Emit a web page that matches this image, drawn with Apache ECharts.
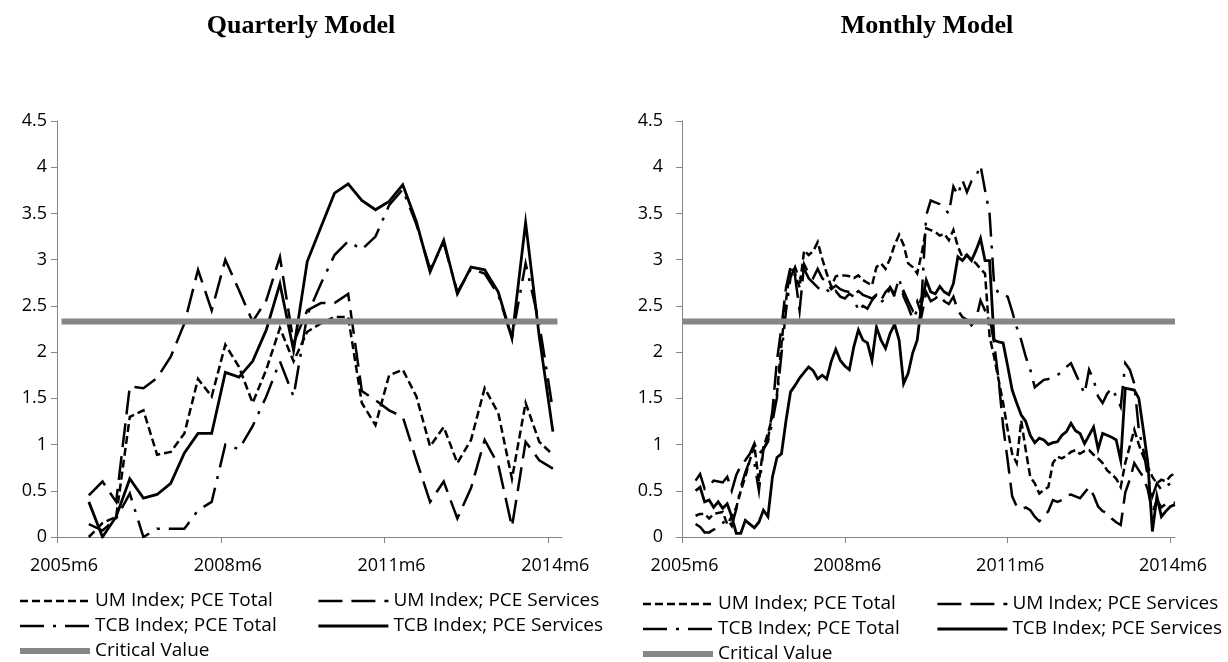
<!DOCTYPE html>
<html>
    <head>
        <meta charset="UTF-8">
        <script src="https://cdn.jsdelivr.net/npm/echarts@6/dist/echarts.min.js"></script>
        <style>
            html, body { margin: 0; padding: 0; background: #fff; }
            #main { width: 1228px; height: 662px; }
        </style>
    </head>

    <body>
        <div id="main"></div>
    </body>

    <script>
        // critical value and the month labels shown on the x axis
        var critValue = 2.33;
        var tickLabels = ['2005m6', '2008m6', '2011m6', '2014m6'];

        // quarterly model, one point per quarter, first point at 2006m1
        var qStart = 7;
        var umTotalQ = [0.00, 0.15, 0.22, 1.30, 1.37, 0.89, 0.92, 1.12, 1.71, 1.52, 2.08, 1.84, 1.45, 1.81, 2.26, 1.90, 2.22, 2.31, 2.38, 2.38,
                        1.45, 1.21, 1.75, 1.81, 1.52, 0.98, 1.19, 0.80, 1.05, 1.61, 1.34, 0.63, 1.45, 1.03, 0.89];
        var umServQ  = [0.45, 0.60, 0.38, 1.63, 1.61, 1.72, 1.95, 2.31, 2.89, 2.45, 3.00, 2.67, 2.33, 2.56, 3.03, 2.10, 2.45, 2.53, 2.53, 2.63,
                        1.58, 1.48, 1.37, 1.30, 0.83, 0.38, 0.60, 0.20, 0.53, 1.05, 0.78, 0.11, 1.03, 0.83, 0.74];
        var tcbTotalQ = [0.14, 0.07, 0.20, 0.47, 0.00, 0.09, 0.09, 0.09, 0.29, 0.38, 1.00, 0.95, 1.20, 1.52, 1.90, 1.52, 2.40, 2.74, 3.05, 3.20,
                         3.11, 3.25, 3.59, 3.76, 3.38, 2.90, 3.18, 2.65, 2.90, 2.85, 2.62, 2.15, 2.96, 2.31, 1.37];
        var tcbServQ = [0.38, 0.00, 0.22, 0.63, 0.42, 0.46, 0.58, 0.91, 1.12, 1.12, 1.78, 1.73, 1.90, 2.24, 2.74, 2.02, 2.98, 3.35, 3.72, 3.82,
                        3.64, 3.54, 3.63, 3.81, 3.41, 2.87, 3.21, 2.63, 2.92, 2.89, 2.65, 2.15, 3.40, 2.17, 1.14];

        // monthly model, first point at 2005m9
        var mStart = 3;
        var umTotalM = [0.23, 0.25, 0.25, 0.20, 0.25, 0.26, 0.27, 0.14, 0.22, 0.32,
                        0.50, 0.65, 0.83, 0.99, 0.60, 0.97, 1.12, 1.30, 1.55, 2.09,
                        2.56, 2.92, 2.85, 2.70, 3.10, 3.05, 3.09, 3.19, 3.01, 2.85,
                        2.71, 2.82, 2.83, 2.83, 2.82, 2.80, 2.83, 2.78, 2.75, 2.72,
                        2.92, 2.96, 2.90, 3.01, 3.16, 3.27, 3.16, 2.96, 2.92, 2.85,
                        3.07, 3.34, 3.32, 3.30, 3.26, 3.28, 3.21, 3.32, 3.14, 3.03,
                        3.05, 3.00, 2.96, 2.90, 2.85, 2.17, 1.95, 1.70, 1.45, 1.16,
                        0.90, 0.80, 1.26, 0.94, 0.65, 0.58, 0.47, 0.51, 0.54, 0.80,
                        0.87, 0.85, 0.88, 0.92, 0.94, 0.90, 0.93, 0.94, 0.89, 0.85,
                        0.80, 0.72, 0.68, 0.63, 0.54, 0.80, 0.98, 1.16, 1.00, 0.87,
                        0.76, 0.65, 0.58, 0.62, 0.60, 0.66, 0.69];
        var umServM = [0.61, 0.68, 0.52, 0.55, 0.61, 0.60, 0.59, 0.65, 0.50, 0.67,
                       0.77, 0.83, 0.90, 1.01, 0.90, 0.95, 1.05, 1.37, 1.91, 2.27,
                       2.70, 2.92, 2.82, 2.45, 2.95, 2.85, 2.80, 2.90, 2.80, 2.75,
                       2.68, 2.72, 2.68, 2.66, 2.65, 2.62, 2.66, 2.62, 2.60, 2.58,
                       2.62, 2.56, 2.65, 2.70, 2.60, 2.62, 2.66, 2.55, 2.45, 2.55,
                       2.40, 2.65, 2.55, 2.58, 2.62, 2.55, 2.52, 2.60, 2.45, 2.38,
                       2.35, 2.29, 2.35, 2.56, 2.45, 2.38, 2.10, 1.70, 1.20, 0.83,
                       0.44, 0.33, 0.30, 0.32, 0.29, 0.22, 0.17, 0.22, 0.28, 0.40,
                       0.38, 0.40, 0.45, 0.46, 0.44, 0.42, 0.48, 0.54, 0.45, 0.33,
                       0.28, 0.26, 0.20, 0.16, 0.13, 0.48, 0.62, 0.80, 0.72, 0.65,
                       0.51, 0.26, 0.40, 0.32, 0.36, 0.37, 0.37];
        var tcbTotalM = [0.14, 0.11, 0.05, 0.05, 0.08, 0.11, 0.15, 0.20, 0.12, 0.30,
                         0.54, 0.70, 0.83, 0.80, 0.50, 0.95, 1.03, 1.25, 1.51, 1.98,
                         2.45, 2.81, 2.92, 2.78, 2.90, 2.80, 2.75, 2.70, 2.66, 2.68,
                         2.62, 2.66, 2.60, 2.58, 2.63, 2.60, 2.44, 2.50, 2.47, 2.56,
                         2.62, 2.54, 2.58, 2.70, 2.63, 2.80, 2.60, 2.49, 2.36, 2.45,
                         2.60, 3.48, 3.64, 3.62, 3.60, 3.55, 3.50, 3.79, 3.70, 3.86,
                         3.73, 3.85, 3.90, 4.02, 3.75, 3.50, 2.74, 2.63, 2.62, 2.60,
                         2.44, 2.27, 2.13, 1.95, 1.81, 1.62, 1.66, 1.70, 1.71, 1.72,
                         1.75, 1.79, 1.84, 1.88, 1.77, 1.66, 1.55, 1.81, 1.70, 1.52,
                         1.45, 1.55, 1.61, 1.52, 1.41, 1.88, 1.81, 1.66, 1.16, 0.94,
                         0.65, 0.44, 0.58, 0.51, 0.55, 0.58, 0.56];
        var tcbServM = [0.50, 0.54, 0.38, 0.40, 0.32, 0.38, 0.31, 0.36, 0.22, 0.04,
                        0.04, 0.18, 0.14, 0.10, 0.16, 0.29, 0.22, 0.65, 0.86, 0.90,
                        1.26, 1.57, 1.64, 1.72, 1.78, 1.84, 1.80, 1.71, 1.75, 1.71,
                        1.90, 2.03, 1.91, 1.85, 1.81, 2.06, 2.24, 2.13, 2.10, 1.91,
                        2.27, 2.13, 2.04, 2.20, 2.30, 2.13, 1.66, 1.77, 1.99, 2.13,
                        2.53, 2.78, 2.65, 2.63, 2.71, 2.65, 2.62, 2.74, 3.03, 2.99,
                        3.05, 2.99, 3.10, 3.23, 2.99, 2.99, 2.13, 2.11, 2.10, 1.85,
                        1.59, 1.45, 1.32, 1.25, 1.10, 1.02, 1.07, 1.05, 1.00, 1.02,
                        1.03, 1.10, 1.14, 1.23, 1.15, 1.12, 1.01, 1.10, 1.19, 0.95,
                        1.12, 1.10, 1.08, 1.05, 0.83, 1.61, 1.60, 1.59, 1.50, 1.16,
                        0.80, 0.06, 0.44, 0.22, 0.28, 0.33, 0.35];

        var names = {
            umTotal: 'UM Index; PCE Total',
            umServ: 'UM Index; PCE Services',
            tcbTotal: 'TCB Index; PCE Total',
            tcbServ: 'TCB Index; PCE Services',
            crit: 'Critical Value'
        };

        // month labels 2005m6, 2005m7, ...
        function monthLabels(count) {
            var out = [];
            var y = 2005, m = 6;
            for (var i = 0; i < count; i++) {
                out.push(y + 'm' + m);
                m++;
                if (m > 12) { m = 1; y++; }
            }
            return out;
        }
        var qMonths = monthLabels(112);   // 2005m6 .. 2014m9
        var mMonths = monthLabels(110);   // 2005m6 .. 2014m7

        function pairs(arr, months, start, step) {
            return arr.map(function (v, i) { return [months[start + i * step], v]; });
        }

        function showTick(index, value) {
            return tickLabels.indexOf(value) >= 0;
        }

        var axisColor = '#868686';
        var textFont = 'Open Sans';

        function xAxis(idx, months, shift) {
            return {
                type: 'category', gridIndex: idx, data: months, boundaryGap: false,
                axisLine: { show: true, lineStyle: { color: axisColor, width: 1 } },
                axisTick: { show: true, interval: showTick, length: 6, lineStyle: { color: axisColor } },
                axisLabel: { interval: showTick, color: '#000', fontFamily: textFont, fontSize: 18,
                             margin: 20, padding: [0, 0, 0, shift] },
                splitLine: { show: false }
            };
        }
        function yAxis(idx, margin) {
            return {
                type: 'value', gridIndex: idx, min: 0, max: 4.5, interval: 0.5,
                axisLine: { show: true, lineStyle: { color: axisColor, width: 1 } },
                axisTick: { show: true, length: 6, lineStyle: { color: axisColor } },
                axisLabel: { color: '#000', fontFamily: textFont, fontSize: 18, margin: margin },
                splitLine: { show: false }
            };
        }

        function line(name, idx, data, dash, width, color) {
            return {
                name: name, type: 'line', xAxisIndex: idx, yAxisIndex: idx, data: data,
                symbol: 'none', smooth: false,
                lineStyle: { color: color || '#000', width: width || 2.5, type: dash || 'solid', cap: 'butt', join: 'miter' },
                itemStyle: { color: color || '#000' },
                emphasis: { disabled: true }
            };
        }

        var shortDash = [8, 4];
        var longDash = [24, 9];
        var dashDot = [24, 9, 3, 9];
        var grey = '#868686';

        function legend(left, top, items) {
            return {
                orient: 'vertical', left: left, top: top, height: 90, padding: 0,
                itemWidth: 70, itemHeight: 14, itemGap: 5,
                selectedMode: false,
                itemStyle: { opacity: 0 },
                lineStyle: { width: 'inherit' },
                textStyle: { color: '#000', fontFamily: textFont, fontSize: 19, lineHeight: 20 },
                data: items
            };
        }

        var titleStyle = { color: '#000', fontFamily: 'Liberation Serif', fontWeight: 'bold', fontSize: 26 };

        var option = {
            animation: false,
            backgroundColor: '#fff',
            title: [
                { text: 'Quarterly Model', left: 296, top: 8, textAlign: 'center', textStyle: titleStyle },
                { text: 'Monthly Model', left: 922, top: 8, textAlign: 'center', textStyle: titleStyle }
            ],
            legend: [
                legend(17, 591, [names.umTotal, names.tcbTotal, names.crit]),
                legend(317, 591, [names.umServ, names.tcbServ]),
                legend(640, 594, [names.umTotal, names.tcbTotal, names.crit]),
                legend(936, 594, [names.umServ, names.tcbServ])
            ],
            grid: [
                { left: 57, top: 121, width: 505, height: 416 },
                { left: 682, top: 121, width: 493, height: 416 }
            ],
            xAxis: [xAxis(0, qMonths, 14), xAxis(1, mMonths, 5)],
            yAxis: [yAxis(0, 10), yAxis(1, 19)],
            series: [
                line(names.umTotal, 0, pairs(umTotalQ, qMonths, qStart, 3), shortDash),
                line(names.umServ, 0, pairs(umServQ, qMonths, qStart, 3), longDash),
                line(names.tcbTotal, 0, pairs(tcbTotalQ, qMonths, qStart, 3), dashDot),
                line(names.tcbServ, 0, pairs(tcbServQ, qMonths, qStart, 3), 'solid', 2.8),
                line(names.crit, 0, [[qMonths[1], critValue], [qMonths[110], critValue]], 'solid', 6, grey),

                line(names.umTotal, 1, pairs(umTotalM, mMonths, mStart, 1), shortDash),
                line(names.umServ, 1, pairs(umServM, mMonths, mStart, 1), longDash),
                line(names.tcbTotal, 1, pairs(tcbTotalM, mMonths, mStart, 1), dashDot),
                line(names.tcbServ, 1, pairs(tcbServM, mMonths, mStart, 1), 'solid', 2.8),
                line(names.crit, 1, [[mMonths[0], critValue], [mMonths[109], critValue]], 'solid', 6, grey)
            ]
        };

        var myChart = echarts.init(document.getElementById('main'));
        myChart.setOption(option);
    </script>
</html>
